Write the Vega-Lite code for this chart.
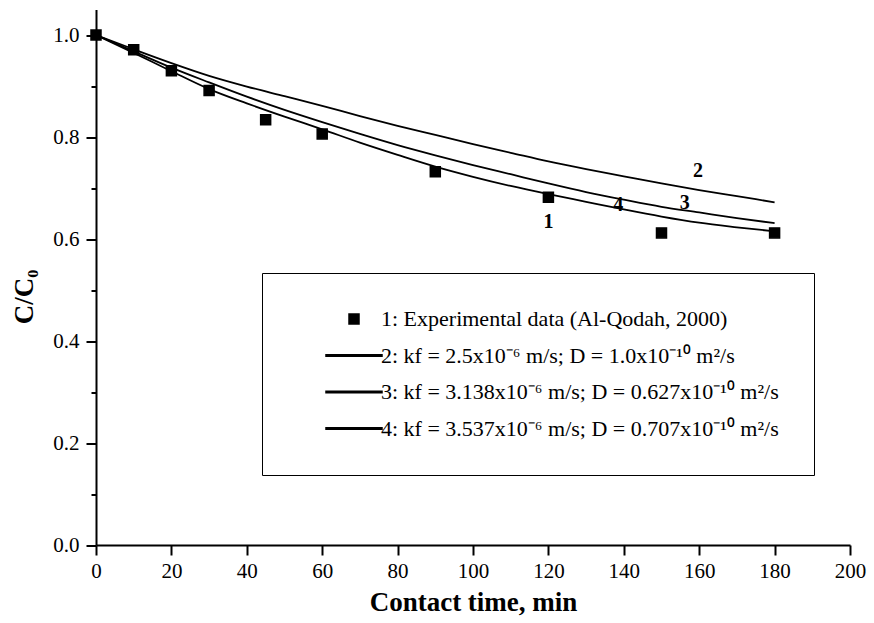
{
  "$schema": "https://vega.github.io/schema/vega-lite/v6.json",
  "width": 754,
  "height": 535.5,
  "autosize": {"type": "none"},
  "padding": {"left": 96, "top": 9.5, "right": 24, "bottom": 78},
  "background": "white",
  "config": {
    "view": {"stroke": null},
    "font": "Liberation Serif",
    "axis": {
      "domainColor": "black", "domainWidth": 2,
      "tickColor": "black", "tickWidth": 2,
      "labelColor": "black", "labelFont": "Liberation Serif", "labelFontSize": 21,
      "titleFont": "Liberation Serif", "titleFontSize": 27, "titleFontWeight": "bold", "titleColor": "black",
      "grid": false, "labelOverlap": false, "labelFlush": false
    }
  },
  "datasets": {
    "points": [
      {"t": 0, "c": 1.0, "series": "1: Experimental data (Al-Qodah, 2000)"},
      {"t": 10, "c": 0.971, "series": "1: Experimental data (Al-Qodah, 2000)"},
      {"t": 20, "c": 0.930, "series": "1: Experimental data (Al-Qodah, 2000)"},
      {"t": 30, "c": 0.891, "series": "1: Experimental data (Al-Qodah, 2000)"},
      {"t": 45, "c": 0.834, "series": "1: Experimental data (Al-Qodah, 2000)"},
      {"t": 60, "c": 0.806, "series": "1: Experimental data (Al-Qodah, 2000)"},
      {"t": 90, "c": 0.732, "series": "1: Experimental data (Al-Qodah, 2000)"},
      {"t": 120, "c": 0.682, "series": "1: Experimental data (Al-Qodah, 2000)"},
      {"t": 150, "c": 0.612, "series": "1: Experimental data (Al-Qodah, 2000)"},
      {"t": 180, "c": 0.612, "series": "1: Experimental data (Al-Qodah, 2000)"}
    ],
    "curves": [
      {"curve": "2", "t": 0, "c": 1.0}, {"curve": "2", "t": 10, "c": 0.972}, {"curve": "2", "t": 20, "c": 0.945},
      {"curve": "2", "t": 30, "c": 0.920}, {"curve": "2", "t": 40, "c": 0.899}, {"curve": "2", "t": 50, "c": 0.880},
      {"curve": "2", "t": 60, "c": 0.861}, {"curve": "2", "t": 70, "c": 0.841}, {"curve": "2", "t": 80, "c": 0.822},
      {"curve": "2", "t": 90, "c": 0.804}, {"curve": "2", "t": 100, "c": 0.786}, {"curve": "2", "t": 110, "c": 0.769},
      {"curve": "2", "t": 120, "c": 0.752}, {"curve": "2", "t": 130, "c": 0.737}, {"curve": "2", "t": 140, "c": 0.723},
      {"curve": "2", "t": 150, "c": 0.709}, {"curve": "2", "t": 160, "c": 0.696}, {"curve": "2", "t": 170, "c": 0.684},
      {"curve": "2", "t": 180, "c": 0.672},
      {"curve": "3", "t": 0, "c": 1.0}, {"curve": "3", "t": 10, "c": 0.968}, {"curve": "3", "t": 20, "c": 0.936},
      {"curve": "3", "t": 30, "c": 0.907}, {"curve": "3", "t": 40, "c": 0.879}, {"curve": "3", "t": 50, "c": 0.853},
      {"curve": "3", "t": 60, "c": 0.829}, {"curve": "3", "t": 70, "c": 0.806}, {"curve": "3", "t": 80, "c": 0.784},
      {"curve": "3", "t": 90, "c": 0.764}, {"curve": "3", "t": 100, "c": 0.745}, {"curve": "3", "t": 110, "c": 0.727},
      {"curve": "3", "t": 120, "c": 0.709}, {"curve": "3", "t": 130, "c": 0.692}, {"curve": "3", "t": 140, "c": 0.677},
      {"curve": "3", "t": 150, "c": 0.663}, {"curve": "3", "t": 160, "c": 0.652}, {"curve": "3", "t": 170, "c": 0.641},
      {"curve": "3", "t": 180, "c": 0.631},
      {"curve": "4", "t": 0, "c": 1.0}, {"curve": "4", "t": 10, "c": 0.965}, {"curve": "4", "t": 20, "c": 0.929},
      {"curve": "4", "t": 30, "c": 0.894}, {"curve": "4", "t": 40, "c": 0.866}, {"curve": "4", "t": 50, "c": 0.840},
      {"curve": "4", "t": 60, "c": 0.815}, {"curve": "4", "t": 70, "c": 0.789}, {"curve": "4", "t": 80, "c": 0.765},
      {"curve": "4", "t": 90, "c": 0.742}, {"curve": "4", "t": 100, "c": 0.722}, {"curve": "4", "t": 110, "c": 0.704},
      {"curve": "4", "t": 120, "c": 0.688}, {"curve": "4", "t": 130, "c": 0.673}, {"curve": "4", "t": 140, "c": 0.658},
      {"curve": "4", "t": 150, "c": 0.644}, {"curve": "4", "t": 160, "c": 0.632}, {"curve": "4", "t": 170, "c": 0.623},
      {"curve": "4", "t": 180, "c": 0.615}
    ],
    "labels": [
      {"t": 120, "c": 0.634, "text": "1"},
      {"t": 159.7, "c": 0.733, "text": "2"},
      {"t": 156.2, "c": 0.670, "text": "3"},
      {"t": 138.5, "c": 0.667, "text": "4"}
    ]
  },
  "layer": [
    {
      "data": {"name": "curves"},
      "mark": {"type": "line", "color": "black", "strokeWidth": 1.8, "interpolate": "monotone"},
      "encoding": {
        "x": {
          "field": "t", "type": "quantitative", "title": "Contact time, min",
          "scale": {"domain": [0, 200], "nice": false, "zero": false},
          "axis": {
            "values": [0, 10, 20, 30, 40, 50, 60, 70, 80, 90, 100, 110, 120, 130, 140, 150, 160, 170, 180, 190, 200],
            "labelExpr": "datum.value % 20 == 0 ? datum.label : ''",
            "tickSize": {"condition": {"test": "datum.value % 20 == 0", "value": 10}, "value": 5},
            "labelPadding": 5, "titlePadding": 8
          }
        },
        "y": {
          "field": "c", "type": "quantitative", "title": "C/C₀",
          "scale": {"domain": [0, 1.05], "nice": false},
          "axis": {
            "values": [0, 0.1, 0.2, 0.3, 0.4, 0.5, 0.6, 0.7, 0.8, 0.9, 1.0],
            "labelExpr": "round(datum.value * 10) % 2 == 0 ? format(datum.value, '.1f') : ''",
            "tickSize": {"condition": {"test": "round(datum.value * 10) % 2 == 0", "value": 10}, "value": 5},
            "labelPadding": 7, "titlePadding": 14, "titleY": 287
          }
        },
        "detail": {"field": "curve", "type": "nominal"}
      }
    },
    {
      "data": {"name": "points"},
      "mark": {"type": "point", "filled": true, "color": "black", "stroke": "black", "strokeWidth": 1.5, "size": 100, "opacity": 1},
      "encoding": {
        "x": {"field": "t", "type": "quantitative", "title": "Contact time, min"},
        "y": {"field": "c", "type": "quantitative", "title": "C/C₀"},
        "shape": {
          "field": "series", "type": "nominal",
          "scale": {
            "domain": [
              "1: Experimental data (Al-Qodah, 2000)",
              "2: kf = 2.5x10⁻⁶ m/s; D = 1.0x10⁻¹⁰ m²/s",
              "3: kf = 3.138x10⁻⁶ m/s; D = 0.627x10⁻¹⁰ m²/s",
              "4: kf = 3.537x10⁻⁶ m/s; D = 0.707x10⁻¹⁰ m²/s"
            ],
            "range": ["square", "M-5.6,-0.17H5.6V0.17H-5.6Z", "M-5.6,-0.17H5.6V0.17H-5.6Z", "M-5.6,-0.17H5.6V0.17H-5.6Z"]
          },
          "legend": {
            "title": null,
            "orient": "none", "legendX": 166, "legendY": 263.5,
            "strokeColor": "black", "padding": 35,
            "labelFont": "Liberation Serif", "labelFontSize": 22, "labelColor": "black", "labelLimit": 1000,
            "rowPadding": 14.5, "symbolOffset": 46, "labelOffset": 16, "symbolSize": 100,
            "symbolFillColor": "black",
            "encode": {
              "legend": {"strokeWidth": {"value": 1.5}}
            }
          }
        }
      }
    },
    {
      "data": {"name": "labels"},
      "mark": {"type": "text", "font": "Liberation Serif", "fontSize": 20, "fontWeight": "bold", "color": "black", "align": "center", "baseline": "middle"},
      "encoding": {
        "x": {"field": "t", "type": "quantitative", "title": "Contact time, min"},
        "y": {"field": "c", "type": "quantitative", "title": "C/C₀"},
        "text": {"field": "text"}
      }
    }
  ]
}
